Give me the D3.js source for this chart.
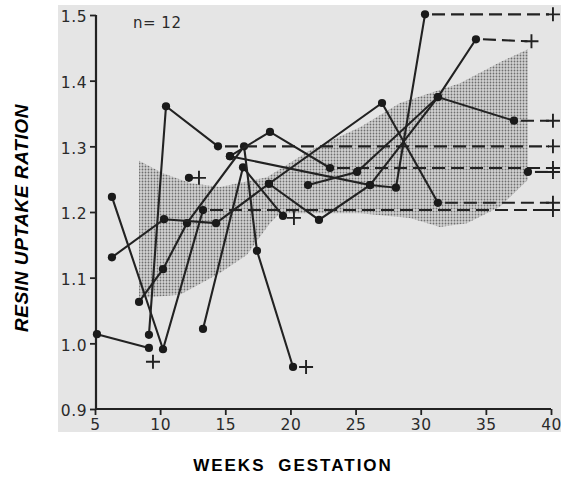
<!DOCTYPE html>
<html><head><meta charset="utf-8">
<script src="https://cdn.jsdelivr.net/npm/d3@7"></script>
<style>body{margin:0;background:#fff}</style>
</head><body><svg id="c" width="561" height="477"></svg>
<script>
// ---- data ----
const xTicks = [5, 10, 15, 20, 25, 30, 35, 40];
const yTicks = [0.9, 1.0, 1.1, 1.2, 1.3, 1.4, 1.5];
const yTickLabels = ["0.9", "1.0", "1.1", "1.2", "1.3", "1.4", "1.5"];

const bandUpperWeeks  = [8.38, 10.22, 12.29, 14.59, 18.2, 21.5, 25.34, 28.41, 33.01, 36.08, 38.23];
const bandUpperValues = [1.278, 1.259, 1.244, 1.238, 1.253, 1.294, 1.329, 1.366, 1.396, 1.428, 1.448];
const bandLowerWeeks  = [38.23, 36.08, 33.55, 31.48, 29.17, 25.34, 19.2, 18.43, 16.67, 14.59, 11.52, 8.38];
const bandLowerValues = [1.249, 1.208, 1.183, 1.177, 1.191, 1.198, 1.198, 1.183, 1.135, 1.107, 1.074, 1.069];

const p1Weeks = [5.15, 9.14];                          const p1Values = [1.014, 0.993];
const p2Weeks = [12.21];                               const p2Values = [1.252];
const p3Weeks = [13.29, 16.36, 19.43];                 const p3Values = [1.022, 1.268, 1.194];
const p4Weeks = [8.38, 10.22, 12.06, 16.44, 17.43, 20.2]; const p4Values = [1.063, 1.113, 1.183, 1.300, 1.141, 0.964];
const p5Weeks = [9.14, 10.45, 14.44];                  const p5Values = [1.013, 1.361, 1.300];
const p6Weeks = [6.3, 10.22, 13.29];                   const p6Values = [1.223, 0.991, 1.203];
const p7Weeks = [6.3, 10.3, 14.29, 18.35, 27.03, 31.32]; const p7Values = [1.131, 1.189, 1.183, 1.243, 1.366, 1.214];
const p8Weeks = [15.36, 18.43, 23.04];                 const p8Values = [1.285, 1.322, 1.267];
const p9Weeks = [18.35, 22.19, 26.11, 28.1, 30.33];    const p9Values = [1.243, 1.188, 1.241, 1.237, 1.501];
const p10Weeks = [15.36, 26.11, 31.32, 34.24];         const p10Values = [1.285, 1.241, 1.375, 1.463];
const p11Weeks = [21.35, 25.11, 31.32, 37.16];         const p11Values = [1.241, 1.261, 1.375, 1.339];
const p12Weeks = [38.23];                              const p12Values = [1.261];

// post-partum value (+) for each patient
const postWeeks  = [9.45, 12.98, 20.27, 21.2, 40.15, 40.15, 40.15, 40.15, 40.15, 38.5, 40.15, 40.15];
const postValues = [0.972, 1.252, 1.191, 0.964, 1.300, 1.203, 1.214, 1.267, 1.501, 1.460, 1.339, 1.261];

const allWeeks  = [p1Weeks, p2Weeks, p3Weeks, p4Weeks, p5Weeks, p6Weeks, p7Weeks, p8Weeks, p9Weeks, p10Weeks, p11Weeks, p12Weeks];
const allValues = [p1Values, p2Values, p3Values, p4Values, p5Values, p6Values, p7Values, p8Values, p9Values, p10Values, p11Values, p12Values];

// ---- drawing ----
const svg = d3.select("#c");
const x = d3.scaleLinear().domain([5, 40]).range([95, 551]);
const y = d3.scaleLinear().domain([0.9, 1.5]).range([409, 15]);
const ink = "#222";

// paper background
svg.append("rect").attr("x", 58).attr("y", 5).attr("width", 503).attr("height", 427).attr("fill", "#e5e5e5");

// stipple pattern
const defs = svg.append("defs");
const pat = defs.append("pattern").attr("id", "stip").attr("width", 3).attr("height", 3)
  .attr("patternUnits", "userSpaceOnUse");
pat.append("rect").attr("width", 3).attr("height", 3).attr("fill", "#d2d2d2");
pat.append("circle").attr("cx", 1.5).attr("cy", 1.5).attr("r", 0.9).attr("fill", "#6e6e6e");

const bandPts = bandUpperWeeks.map((w, i) => [x(w), y(bandUpperValues[i])])
  .concat(bandLowerWeeks.map((w, i) => [x(w), y(bandLowerValues[i])]));
svg.append("path")
  .attr("d", d3.line().curve(d3.curveLinearClosed)(bandPts))
  .attr("fill", "url(#stip)");

// axes
const yAxis = d3.axisLeft(y).tickValues(yTicks).tickSize(6).tickPadding(3)
  .tickFormat((d, i) => yTickLabels[i]);
const gy = svg.append("g").attr("transform", "translate(96,0)").call(yAxis);
const xAxis = d3.axisBottom(x).tickValues(xTicks).tickSize(6).tickPadding(3);
const gx = svg.append("g").attr("transform", "translate(0,409)").call(xAxis);
[gx, gy].forEach(g => {
  g.select(".domain").attr("stroke", ink).attr("stroke-width", 2.2);
  g.selectAll(".tick line").attr("stroke", ink).attr("stroke-width", 1.8);
  g.selectAll(".tick text").attr("fill", "#2a2a2a")
    .attr("font-family", "DejaVu Sans").attr("font-size", 15.5).attr("letter-spacing", 0.5);
});
gx.select(".domain").attr("d", "M95,0H551");
gy.select(".domain").attr("d", "M0,15V409");
gy.selectAll(".tick text").attr("dy", "0.45em");
gx.selectAll(".tick text").attr("dy", "0.8em");

// patient lines, dashes, points, crosses
const line = d3.line().x(d => x(d[0])).y(d => y(d[1]));
allWeeks.forEach((ws, k) => {
  const vs = allValues[k];
  const pts = ws.map((w, i) => [w, vs[i]]);
  if (pts.length > 1) {
    svg.append("path").attr("d", line(pts)).attr("fill", "none")
      .attr("stroke", ink).attr("stroke-width", 2.1);
  }
  const last = pts[pts.length - 1];
  const pw = postWeeks[k], pv = postValues[k];
  if (pw - last[0] > 1.5) {
    svg.append("line")
      .attr("x1", x(last[0]) + 7).attr("y1", y(last[1]))
      .attr("x2", x(pw) - 4).attr("y2", y(pv))
      .attr("stroke", ink).attr("stroke-width", 2.1)
      .attr("stroke-dasharray", "13,6");
  }
  const cx = x(pw), cy = y(pv);
  svg.append("path").attr("d", `M${cx-7},${cy}H${cx+7}M${cx},${cy-7}V${cy+7}`)
    .attr("stroke", ink).attr("stroke-width", 1.9).attr("fill", "none");
  svg.selectAll(null).data(pts).enter().append("circle")
    .attr("cx", d => x(d[0])).attr("cy", d => y(d[1])).attr("r", 4.1).attr("fill", "#1a1a1a");
});

// labels
svg.append("text").attr("x", 133).attr("y", 28).text("n= 12")
  .attr("font-family", "DejaVu Sans").attr("font-size", 15).attr("letter-spacing", 0.5).attr("fill", "#2a2a2a");

svg.append("text").attr("x", 293).attr("y", 471).attr("text-anchor", "middle")
  .attr("font-family", "Liberation Sans").attr("font-weight", "bold").attr("font-size", 17)
  .attr("letter-spacing", 2).attr("word-spacing", 6).attr("fill", "#000")
  .text("WEEKS GESTATION");

svg.append("text").attr("transform", "translate(28,218) rotate(-90)").attr("text-anchor", "middle")
  .attr("font-family", "Liberation Sans").attr("font-weight", "bold").attr("font-style", "italic")
  .attr("font-size", 19).attr("letter-spacing", 0.6).attr("fill", "#000")
  .text("RESIN UPTAKE RATION");
</script>
</body></html>
